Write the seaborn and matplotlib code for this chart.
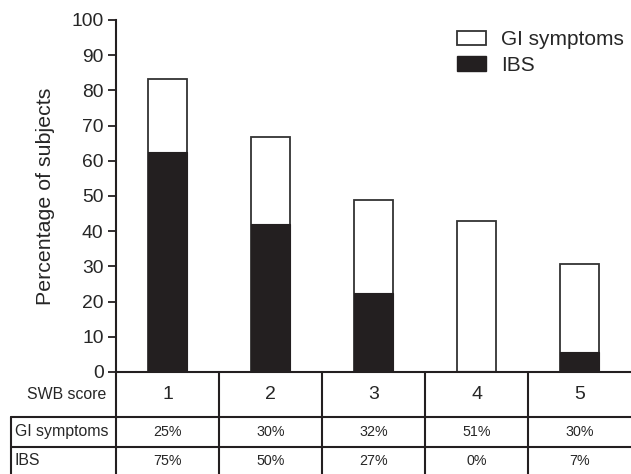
import numpy as np
import pandas as pd
import matplotlib
matplotlib.use("Agg")
import matplotlib.pyplot as plt
import matplotlib.patches as mpatches
import seaborn as sns

# Datos
swb_score = ["1", "2", "3", "4", "5"]
total_pct = [83.3, 66.7, 48.9, 42.9, 30.6]   # altura total (GI symptoms)
ibs_pct = [62.5, 42.0, 22.4, 0.4, 5.8]       # parte negra (IBS)
gi_row = ["25%", "30%", "32%", "51%", "30%"]
ibs_row = ["75%", "50%", "27%", "0%", "7%"]
y_ticks = [0, 10, 20, 30, 40, 50, 60, 70, 80, 90, 100]

df = pd.DataFrame({"swb": swb_score, "total": total_pct, "ibs": ibs_pct})

sns.set_style("ticks")
plt.rcParams["font.family"] = ["Liberation Sans", "DejaVu Sans"]

dark = "#231f20"
W, H = 631, 474

fig = plt.figure(figsize=(W / 100, H / 100), dpi=100)
ax = fig.add_axes([116 / W, 102 / H, 515 / W, 352 / H])

# barras apiladas: total blanco detras, IBS negro delante
sns.barplot(data=df, x="swb", y="total", color="white", edgecolor="#333333",
            linewidth=1.3, width=0.38, saturation=1, ax=ax)
sns.barplot(data=df, x="swb", y="ibs", color=dark, edgecolor=dark,
            linewidth=0.8, width=0.38, saturation=1, ax=ax)

ax.set_xlim(-0.5, 4.5)
ax.set_ylim(0, 100)
ax.set_yticks(y_ticks)
ax.tick_params(axis="y", labelsize=13.9, length=6, width=1.3, pad=3, color=dark)
ax.tick_params(axis="x", length=0, labelbottom=False)
ax.set_xlabel("")
ax.set_ylabel("Percentage of subjects", fontsize=15.4, labelpad=12)
for s in ["top", "right"]:
    ax.spines[s].set_visible(False)
for s in ["left", "bottom"]:
    ax.spines[s].set_linewidth(1.5)
    ax.spines[s].set_color(dark)

handles = [mpatches.Patch(facecolor="white", edgecolor="#333333", linewidth=1.3, label="GI symptoms"),
           mpatches.Patch(facecolor=dark, edgecolor=dark, label="IBS")]
ax.legend(handles=handles, loc="upper left", bbox_to_anchor=(447 / W, 1 - 20 / H),
          bbox_transform=fig.transFigure, frameon=False, fontsize=15,
          handlelength=1.35, handleheight=0.7, handletextpad=0.75,
          labelspacing=0.3, borderpad=0)

# tabla debajo del eje
tab = fig.add_axes([116 / W, 0, 515 / W, 102 / H])
tab.set_xlim(-0.5, 4.5)
tab.set_ylim(474, 372)
tab.axis("off")
left_edge = -0.5 - 105 / 103
kw = dict(color=dark, lw=1.5, clip_on=False)
for xb in np.arange(-0.5, 4.0, 1.0):
    tab.plot([xb, xb], [372, 474], **kw)
for yb in [417, 447]:
    tab.plot([left_edge, 4.5], [yb, yb], **kw)
tab.plot([left_edge, left_edge], [417, 474], **kw)

for i, (s, g, b) in enumerate(zip(swb_score, gi_row, ibs_row)):
    tab.text(i, 395, s, ha="center", va="center", fontsize=14)
    tab.text(i, 432, g, ha="center", va="center", fontsize=10.3)
    tab.text(i, 461, b, ha="center", va="center", fontsize=10.3)

tab.text(-0.5 - 10 / 103, 395, "SWB score", ha="right", va="center", fontsize=11.4)
tab.text(left_edge + 4 / 103, 432, "GI symptoms", ha="left", va="center", fontsize=11.4)
tab.text(left_edge + 4 / 103, 461, "IBS", ha="left", va="center", fontsize=11.4)

plt.savefig("out.png", dpi=100)
plt.close()
